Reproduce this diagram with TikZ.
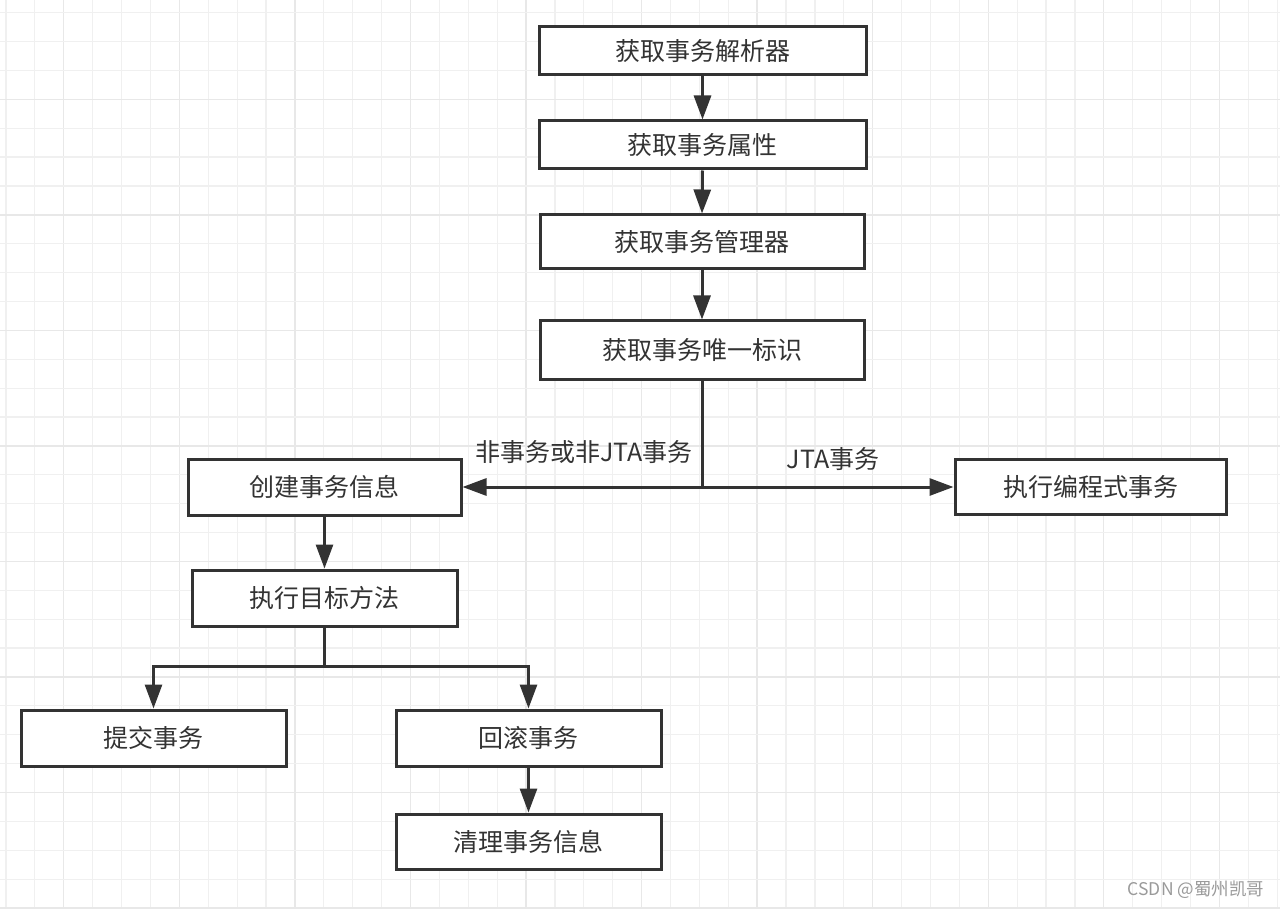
\documentclass[tikz,border=0pt]{standalone}
\usepackage{fontspec}
\setmainfont{Noto Sans CJK SC}
\usetikzlibrary{arrows.meta}
\definecolor{ink}{HTML}{333333}
\definecolor{gridminor}{HTML}{F0F0F0}
\definecolor{gridmajor}{HTML}{E8E8E8}
\definecolor{wm}{HTML}{9A9A9A}
\begin{document}
\begin{tikzpicture}[x=1pt,y=-1pt,
  box/.style={draw=ink,line width=3pt,fill=white,inner sep=0pt,text=ink,font=\fontsize{25}{28}\selectfont},
  conn/.style={draw=ink,line width=3pt,-{Triangle[length=24pt,width=17pt]}},
  lbl/.style={text=ink,font=\fontsize{25}{28}\selectfont,inner sep=0pt}]
\useasboundingbox (0,0) rectangle (1280,909);
\fill[white] (0,0) rectangle (1280,909);
% grid
\foreach \k in {0,...,44}{
  \pgfmathsetmacro{\xx}{6+28.89*\k}
  \pgfmathtruncatemacro{\m}{mod(\k,4)}
  \ifnum\m=2 \draw[gridmajor,line width=1.3pt] (\xx,0) -- (\xx,909);
  \else \draw[gridminor,line width=1.2pt] (\xx,0) -- (\xx,909); \fi
}
\foreach \k in {0,...,31}{
  \pgfmathsetmacro{\yy}{12.7+28.88*\k}
  \pgfmathtruncatemacro{\m}{mod(\k,4)}
  \ifnum\m=3 \draw[gridmajor,line width=1.3pt] (0,\yy) -- (1280,\yy);
  \else \draw[gridminor,line width=1.2pt] (0,\yy) -- (1280,\yy); \fi
}
% boxes
\node[box,minimum width=327pt,minimum height=48pt] (b1) at (702.5,51) {获取事务解析器};
\node[box,minimum width=327pt,minimum height=48pt] (b2) at (702.5,145) {获取事务属性};
\node[box,minimum width=324pt,minimum height=54pt] (b3) at (702,242) {获取事务管理器};
\node[box,minimum width=324pt,minimum height=58pt] (b4) at (702,350) {获取事务唯一标识};
\node[box,minimum width=273pt,minimum height=56pt] (b5) at (324.5,487) {创建事务信息};
\node[box,minimum width=271pt,minimum height=55pt] (b6) at (1090.5,487) {执行编程式事务};
\node[box,minimum width=265pt,minimum height=56pt] (b7) at (324.5,598) {执行目标方法};
\node[box,minimum width=265pt,minimum height=56pt] (b8) at (153.5,738) {提交事务};
\node[box,minimum width=265pt,minimum height=56pt] (b9) at (528.5,738) {回滚事务};
\node[box,minimum width=265pt,minimum height=55pt] (b10) at (528.5,841.5) {清理事务信息};
% connectors
\draw[conn] (b1.south) -- (b2.north);
\draw[conn] (b2.south) -- (b3.north);
\draw[conn] (b3.south) -- (b4.north);
\coordinate (sp) at (702,487);
\draw[draw=ink,line width=3pt] (b4.south) -- (sp);
\draw[conn] (sp) -- (b5.east);
\draw[conn] (sp) -- (b6.west);
\draw[conn] (b5.south) -- (b7.north);
\coordinate (sp2) at (324.5,666);
\draw[draw=ink,line width=3pt] (b7.south) -- (sp2);
\draw[conn] (sp2) -| (b8.north);
\draw[conn] (sp2) -| (b9.north);
\draw[conn] (b9.south) -- (b10.north);
% labels
\node[lbl] (l1) at (584,452) {非事务或非JTA事务};
\node[lbl] (l2) at (833,459) {JTA事务};
\node[text=wm,font=\fontsize{17.5}{19}\selectfont,inner sep=0pt] (wmk) at (1196,890) {CSDN @蜀州凯哥};
\end{tikzpicture}
\end{document}
